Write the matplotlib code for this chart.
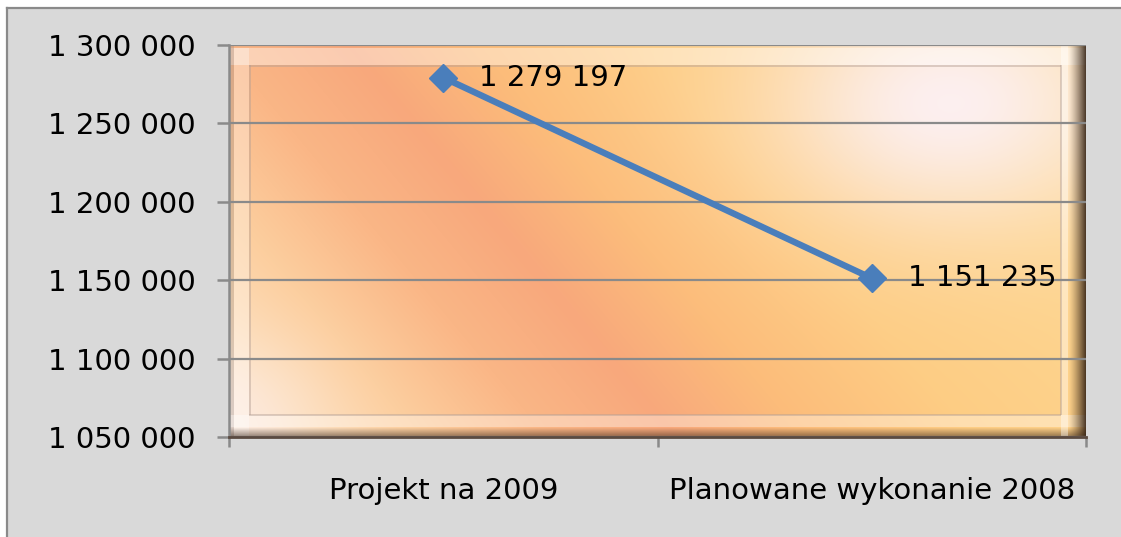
import numpy as np
import matplotlib
matplotlib.use("Agg")
import matplotlib.pyplot as plt
from matplotlib.patches import Rectangle
from matplotlib.lines import Line2D
from matplotlib.ticker import FuncFormatter

# ---- data ----
categories = ["Projekt na 2009", "Planowane wykonanie 2008"]
values = [1279197, 1151235]
y_ticks = [1050000, 1100000, 1150000, 1200000, 1250000, 1300000]


def fmt_space(v, pos=None):
    return f"{int(round(v)):,}".replace(",", " ")


W_PX, H_PX = 1121, 537
fig = plt.figure(figsize=(W_PX / 100, H_PX / 100), dpi=100)
fig.patch.set_facecolor("#d9d9d9")
# white margin strips (top and left) plus grey border lines
fig.patches.append(Rectangle((0, 1 - 8 / H_PX), 1, 8 / H_PX, transform=fig.transFigure,
                             facecolor="white", edgecolor="none", zorder=-10))
fig.patches.append(Rectangle((0, 0), 7 / W_PX, 1, transform=fig.transFigure,
                             facecolor="white", edgecolor="none", zorder=-10))
fig.lines.append(Line2D([7 / W_PX, 1], [1 - 8 / H_PX, 1 - 8 / H_PX], transform=fig.transFigure,
                        color="#8a8a8a", linewidth=1.6))
fig.lines.append(Line2D([7 / W_PX, 7 / W_PX], [0, 1 - 8 / H_PX], transform=fig.transFigure,
                        color="#8a8a8a", linewidth=1.6))

left, right, top, bottom = 229, 1086, 45, 437
ax = fig.add_axes([left / W_PX, 1 - bottom / H_PX, (right - left) / W_PX, (bottom - top) / H_PX])
ax.set_facecolor("none")
ax.set_zorder(1)

# ---- decorative gradient background with bevel ----
H, W = bottom - top, right - left
yy, xx = np.mgrid[0:H, 0:W].astype(float)
u = xx / (W - 1)
v = yy / (H - 1)
d = u - (0.14 + 0.38 * v)
stops_d = np.array([-0.55, -0.42, -0.30, -0.15, 0.0, 0.15, 0.35, 0.80])
stops_c = np.array([
    [252, 234, 220],
    [253, 220, 182],
    [252, 206, 158],
    [250, 182, 134],
    [248, 168, 124],
    [252, 188, 122],
    [254, 205, 132],
    [254, 218, 150],
], dtype=float)
img = np.zeros((H, W, 3))
for k in range(3):
    img[..., k] = np.interp(d, stops_d, stops_c[:, k])
# white-pink glow top right
g = np.exp(-(((u - 0.84) ** 2) / 0.045 + ((v - 0.15) ** 2) / 0.10))
img = img * (1 - 0.9 * g[..., None]) + np.array([252, 242, 250]) * 0.9 * g[..., None]
# cream glow bottom-left
g2 = np.exp(-(((u - 0.0) ** 2) / 0.012 + ((v - 0.95) ** 2) / 0.04))
img = img * (1 - 0.55 * g2[..., None]) + np.array([252, 238, 235]) * 0.55 * g2[..., None]

img = img / 255.0
white = np.array([1.0, 1.0, 1.0])
dark = np.array([0.18, 0.11, 0.06])

# top highlight band
m = (yy >= 3) & (yy < 20)
img[m] = img[m] * 0.6 + white * 0.4
# left highlight band
m = (xx >= 5) & (xx < 20) & (yy >= 3)
img[m] = img[m] * 0.7 + white * 0.3
# left edge greyish shade
ml = xx < 5
img[ml] = img[ml] * 0.7 + np.array([0.55, 0.52, 0.52]) * 0.3
# bottom highlight band
m = (yy >= H - 22) & (yy < H - 10)
img[m] = img[m] * 0.65 + white * 0.35
# bottom darkening
mb = yy >= H - 10
t = ((yy - (H - 10)) / 10.0)
img[mb] = img[mb] * (1 - 0.55 * t[mb][:, None]) + dark * 0.55 * t[mb][:, None]
# right highlight band and dark edge
m = (xx >= W - 25) & (xx < W - 18)
img[m] = img[m] * 0.6 + white * 0.4
mr = xx >= W - 18
t = ((xx - (W - 18)) / 18.0) ** 1.3
img[mr] = img[mr] * (1 - 0.9 * t[mr][:, None]) + dark * 0.9 * t[mr][:, None]
# thin inner bevel lines
line_c = np.array([0.70, 0.62, 0.58])
for mask in [((yy >= 20) & (yy < 22) & (xx >= 20) & (xx < W - 25)),
             ((xx >= 20) & (xx < 22) & (yy >= 20) & (yy < H - 22)),
             ((yy >= H - 23) & (yy < H - 21) & (xx >= 20) & (xx < W - 25)),
             ((xx >= W - 26) & (xx < W - 24) & (yy >= 20) & (yy < H - 22))]:
    img[mask] = img[mask] * 0.55 + line_c * 0.45
img = np.clip(img, 0, 1)

ax.imshow(img, extent=[0, 1, 0, 1], transform=ax.transAxes, aspect="auto",
          interpolation="bilinear", zorder=0)

# ---- series ----
x = np.arange(len(categories))
ax.plot(x, values, color="#4a7ebb", linewidth=4.6, marker="D", markersize=14,
        markerfacecolor="#4a7ebb", markeredgecolor="#4a7ebb", zorder=3,
        solid_capstyle="butt")
for xi, val in zip(x, values):
    ax.annotate(fmt_space(val), (xi, val), xytext=(26, 0), textcoords="offset points",
                ha="left", va="center", fontsize=21, color="black", zorder=4)

# ---- axes ----
ax.set_xlim(-0.5, len(categories) - 0.5)
ax.set_ylim(y_ticks[0], y_ticks[-1])
ax.set_yticks(y_ticks)
ax.yaxis.set_major_formatter(FuncFormatter(fmt_space))
ax.set_xticks(np.arange(len(categories) + 1) - 0.5)
ax.set_xticklabels([])
ax.set_xticks(x, categories, minor=True)
ax.tick_params(axis="x", which="minor", length=0, pad=29, labelsize=21)
ax.tick_params(axis="x", which="major", length=7, width=1.8, color="#8a8a8a")
ax.tick_params(axis="y", which="major", length=9, width=1.8, color="#8a8a8a",
               pad=15, labelsize=21)
ax.set_axisbelow(True)
ax.grid(axis="y", color="#8a8a8a", linewidth=1.6)
for s in ["top", "right"]:
    ax.spines[s].set_visible(False)
ax.spines["left"].set_color("#8a8a8a")
ax.spines["left"].set_linewidth(1.8)
ax.spines["bottom"].set_color("#5a4a40")
ax.spines["bottom"].set_linewidth(2.0)

fig.savefig("out.png", dpi=100, facecolor=fig.get_facecolor())
